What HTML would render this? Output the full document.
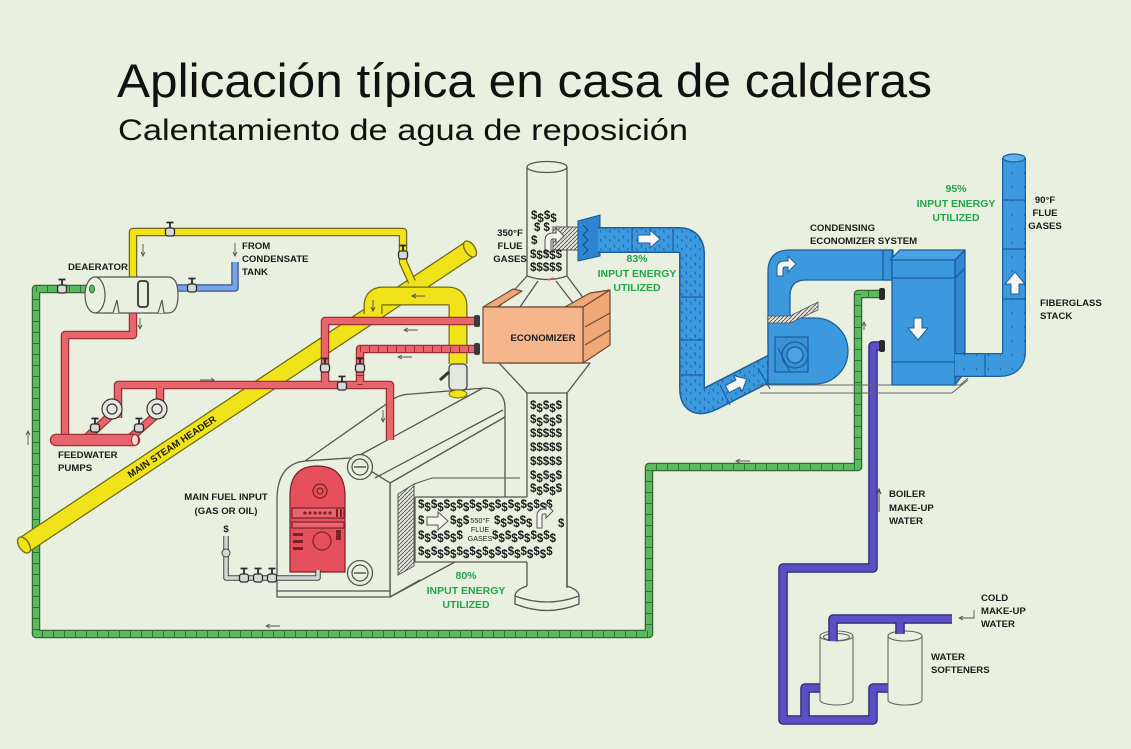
<!DOCTYPE html>
<html><head><meta charset="utf-8"><style>
html,body{margin:0;padding:0;background:#eaf0e0;overflow:hidden}
svg{display:block}
text{font-family:"Liberation Sans",Arial,sans-serif}
.l{font-size:9.6px;font-weight:bold;fill:#1b1b1b}
.g{font-size:10.5px;font-weight:bold;fill:#20a549;text-anchor:middle}
.c{text-anchor:middle}
.d{font-size:11.5px;font-weight:bold;fill:#1a1a1a}
</style></head><body>
<svg width="1131" height="749" viewBox="0 0 1131 749" xmlns="http://www.w3.org/2000/svg">
<defs>
<pattern id="dp" width="9" height="9" patternUnits="userSpaceOnUse">
<rect width="9" height="9" fill="#3c99de"/>
<path d="M2 1.5 l0.8 3 M6.5 5 l0.8 2.6" stroke="#1d5f9f" stroke-width="1"/>
</pattern>
<pattern id="dp2" width="12" height="14" patternUnits="userSpaceOnUse">
<rect width="12" height="14" fill="#3c99de"/>
<path d="M4 4 l0.6 2" stroke="#1d5f9f" stroke-width="1"/>
</pattern>
<pattern id="ht" width="4" height="4" patternUnits="userSpaceOnUse">
<rect width="4" height="4" fill="#e2e4dc"/>
<path d="M0 4 L4 0" stroke="#555" stroke-width="0.9"/>
</pattern>
<g id="v">
<rect x="-4.5" y="-4" width="9" height="8" rx="2.5" fill="#d8d8d8" stroke="#2a2a2a" stroke-width="1.3"/>
<path d="M0 -4 V-9 M-3.5 -9.5 H3.5" stroke="#2a2a2a" stroke-width="1.8"/>
</g>
</defs>
<rect width="1131" height="749" fill="#eaf0e0"/>

<!-- Titles -->
<text x="117" y="97" font-size="47" fill="#111" textLength="815" lengthAdjust="spacingAndGlyphs">Aplicación típica en casa de calderas</text>
<text x="118" y="140" font-size="30" fill="#111" textLength="570" lengthAdjust="spacingAndGlyphs">Calentamiento de agua de reposición</text>

<!-- Boiler -->
<g fill="#eaf0e0" stroke="#555" stroke-width="1.3" stroke-linejoin="round">
<path d="M305 461 L395 398 Q402 394 412 394 L485 388 Q505 389 505 408 V535 L390 597 V483 L350 458 Z"/>
<path d="M277 597 V500 Q277 464 305 461 L350 458 L390 483 V597 Z"/>
<path d="M360 455 L483 388 M375 478 L503 410 M390 483 L505 417" fill="none"/>
<path d="M277 591 H390 M390 597 L420 580" fill="none"/>
<circle cx="360" cy="467" r="12.5"/>
<circle cx="360" cy="467" r="8"/>
<circle cx="360" cy="573" r="12.5"/>
<circle cx="360" cy="573" r="8"/>
</g>
<path d="M354 467 h12 M354 573 h12" stroke="#555" stroke-width="1.5"/>

<!-- Stack -->
<g fill="#eaf0e0" stroke="#555" stroke-width="1.3" stroke-linejoin="round">
<path d="M527 167 V276 L499 307 H590 L567 276 V167"/>
<ellipse cx="547" cy="167" rx="20" ry="5.5"/>
<path d="M527 276 Q547 283 567 276 M538 281 L520 307 M556 281 L573 303" fill="none"/>
<path d="M499 363 H590 L567 393 H527 Z"/>
<path d="M527 393 V588 M567 393 V588" fill="none"/>
<path d="M527 586 Q515 590 515 596 V604 Q547 617 579 604 V596 Q579 590 567 586"/>
<path d="M515 596 Q547 608 579 596" fill="none"/>
</g>
<path d="M548 280 l6 -2" stroke="#e0506a" stroke-width="1.5"/>

<!-- Green pipe -->
<g fill="none" stroke-linejoin="round">
<path d="M92 289 H36 V634 H649 V467 H858 V294 H880" stroke="#2d6a31" stroke-width="8.5"/>
<path d="M92 289 H36 V634 H649 V467 H858 V294 H880" stroke="#5cb960" stroke-width="6"/>
<path d="M92 289 H36 V634 H649 V467 H858 V294 H880" stroke="#2f7434" stroke-width="6" stroke-dasharray="1 10"/>
</g>

<!-- Softeners -->
<g fill="#eaf0e0" stroke="#666" stroke-width="1.1">
<path d="M820 636 V700 A16.5 5 0 0 0 853 700 V636"/>
<ellipse cx="836.5" cy="636" rx="16.5" ry="5"/>
<ellipse cx="836.5" cy="637" rx="13" ry="3.5"/>
<path d="M888 636 V700 A17 5 0 0 0 922 700 V636"/>
<ellipse cx="905" cy="636" rx="17" ry="5"/>
</g>

<!-- Purple pipes -->
<g fill="none" stroke-linejoin="round">
<g stroke="#2d2570" stroke-width="9.5">
<path d="M882 346 H873 V568 H783 V720 H873 V688 H888"/>
<path d="M805 720 V688 H820"/>
<path d="M833 641 V619 H952"/>
<path d="M900 619 V634"/>
</g>
<g stroke="#5b4fc4" stroke-width="7">
<path d="M882 346 H873 V568 H783 V720 H873 V688 H888"/>
<path d="M805 720 V688 H820"/>
<path d="M833 641 V619 H952"/>
<path d="M900 619 V634"/>
</g>
</g>
<path d="M974 610 V618 H960 M963 616 L959 618 L963 620" stroke="#555" fill="none" stroke-width="0.9"/>
<path d="M879 512 V490 M877 494 L879 489 L881 494" stroke="#444" fill="none" stroke-width="1"/>

<!-- Main steam header -->
<line x1="24" y1="545" x2="470" y2="249" stroke="#6f6a10" stroke-width="18"/>
<line x1="24" y1="545" x2="470" y2="249" stroke="#f1e31a" stroke-width="15.5"/>
<ellipse cx="24" cy="545" rx="5" ry="9" transform="rotate(-33.6 24 545)" fill="#f1e31a" stroke="#6f6a10" stroke-width="1.3"/>
<ellipse cx="470" cy="249" rx="5" ry="9" transform="rotate(-33.6 470 249)" fill="#f1e31a" stroke="#6f6a10" stroke-width="1.3"/>
<text class="l c" x="172" y="450" transform="rotate(-33.6 172 447)" font-size="9.8px">MAIN STEAM HEADER</text>

<!-- Yellow deaerator vent line -->
<g fill="none" stroke-linejoin="round">
<path d="M133 279 V232 H403 V262 L412 282" stroke="#6f6a10" stroke-width="8.5"/>
<path d="M133 279 V232 H403 V262 L412 282" stroke="#f1e31a" stroke-width="6"/>
</g>

<!-- Yellow U -->
<g fill="none" stroke-linejoin="round">
<path d="M373 314 V306 Q373 296 383 296 H448 Q458 296 458 306 V364" stroke="#6f6a10" stroke-width="19"/>
<path d="M373 314 V306 Q373 296 383 296 H448 Q458 296 458 306 V364" stroke="#f1e31a" stroke-width="16.5"/>
</g>
<path d="M425 296 h-12 M416 294 l-4 2 l4 2" stroke="#555" fill="none"/>
<path d="M373 300 v10 M371 307 l2 4 l2 -4" stroke="#555" fill="none"/>
<!-- steam nozzle fitting -->
<rect x="449" y="364" width="18" height="26" rx="4" fill="#e4e6e0" stroke="#444" stroke-width="1.3"/>
<ellipse cx="458" cy="394" rx="9" ry="4" fill="#f1e31a" stroke="#6f6a10"/>
<path d="M449 372 L440 380" stroke="#333" stroke-width="3"/>

<!-- Blue condensate -->
<g fill="none" stroke-linejoin="round">
<path d="M176 288 H235 V262" stroke="#35558f" stroke-width="7.5"/>
<path d="M176 288 H235 V262" stroke="#7aa3e8" stroke-width="5"/>
</g>
<path d="M235 243 V256 M233 252 l2 4 l2 -4" stroke="#555" fill="none" stroke-width="0.9"/>

<!-- Red pipes -->
<g fill="none" stroke-linejoin="round">
<g stroke="#9a2f36" stroke-width="8.5">
<path d="M133 313 V335 H65 V438"/>
<path d="M118 418 V385 H390 V440"/>
<path d="M160 418 V385"/>
<path d="M325 385 V321 H478"/>
<path d="M360 385 V349 H478"/>
<path d="M84 440 L110 416 M128 440 L155 416"/>
</g>
<g stroke="#e9656c" stroke-width="6">
<path d="M133 313 V335 H65 V438"/>
<path d="M118 418 V385 H390 V440"/>
<path d="M160 418 V385"/>
<path d="M325 385 V321 H478"/>
<path d="M360 385 V349 H478"/>
<path d="M84 440 L110 416 M128 440 L155 416"/>
</g>
<path d="M360 385 V349 H478" stroke="#9a2f36" stroke-width="6" stroke-dasharray="1 8"/>
</g>
<line x1="56" y1="440" x2="134" y2="440" stroke="#9a2f36" stroke-width="12.5" stroke-linecap="round"/>
<line x1="56" y1="440" x2="134" y2="440" stroke="#e9656c" stroke-width="10" stroke-linecap="round"/>
<ellipse cx="135" cy="440" rx="3.5" ry="5.5" fill="#f3d6d6" stroke="#9a2f36"/>
<!-- pumps -->
<g fill="#e6e6e2" stroke="#333" stroke-width="1.2">
<circle cx="112" cy="409" r="10"/><circle cx="112" cy="409" r="5"/>
<circle cx="157" cy="409" r="10"/><circle cx="157" cy="409" r="5"/>
</g>
<!-- flanges at economizer -->
<g fill="#3a3a3a"><rect x="474" y="315" width="6" height="12" rx="2"/><rect x="474" y="343" width="6" height="12" rx="2"/></g>
<!-- flow arrows -->
<g stroke="#555" fill="none" stroke-width="0.9">
<path d="M200 380 h14 M211 378 l3 2 l-3 2"/>
<path d="M140 318 v10 M138 325 l2 4 l2 -4"/>
<path d="M143 244 v12 M141 252 l2 4 l2 -4"/>
<path d="M418 330 h-14 M408 328 l-4 2 l4 2"/>
<path d="M412 357 h-14 M402 355 l-4 2 l4 2"/>
<path d="M383 410 v12 M381 418 l2 4 l2 -4"/>
<path d="M28 445 v-14 M26 435 l2 -4 l2 4"/>
<path d="M280 626 h-14 M270 624 l-4 2 l4 2"/>
<path d="M750 461 h-14 M740 459 l-4 2 l4 2"/>
<path d="M864 330 v-8 M862 326 l2 -4 l2 4"/>
</g>

<!-- Deaerator -->
<g fill="#eaf0e0" stroke="#555" stroke-width="1.2">
<path d="M95 277 H168 Q178 277 178 295 Q178 313 168 313 H95"/>
<ellipse cx="95" cy="295" rx="10" ry="18"/>
<path d="M113 313 L117 300 L119 313 M158 313 L162 300 L164 313"/>
</g>
<rect x="138" y="281" width="10" height="26" rx="3" fill="none" stroke="#333" stroke-width="1.8"/>
<ellipse cx="92" cy="289" rx="2.5" ry="4" fill="#5cb960" stroke="#2d6a31"/>

<!-- Valves -->
<use href="#v" x="62" y="289"/>
<use href="#v" x="170" y="232"/>
<use href="#v" x="192" y="288"/>
<use href="#v" x="403" y="255"/>
<use href="#v" x="325" y="368"/>
<use href="#v" x="360" y="368"/>
<use href="#v" x="342" y="386"/>
<use href="#v" x="95" y="428"/>
<use href="#v" x="139" y="428"/>

<!-- Economizer -->
<g stroke="#6b4a33" stroke-width="1.2" stroke-linejoin="round">
<polygon points="483,307 513,289 522,291 497,307" fill="#f0a878"/>
<polygon points="565,307 590,293 610,290 583,307" fill="#f0a878"/>
<polygon points="583,307 610,290 610,345 583,363" fill="#f0a878"/>
<rect x="483" y="307" width="100" height="56" fill="#f5b68c"/>
<path d="M585 327 L610 313 M585 345 L610 330" fill="none"/>
</g>
<text class="l c" x="543" y="341" font-size="10px">ECONOMIZER</text>

<!-- Stack connector & blue flange -->
<rect x="553" y="227" width="26" height="23" fill="url(#ht)" stroke="#555"/>
<path d="M545 252 V241 Q545 233 553 233 H556 V228 L564 236 L556 244 V239 H553 Q551 239 551 241 V252 Z" fill="#f4f4f0" stroke="#555"/>
<polygon points="578,221 600,215 600,256 578,261" fill="#2f84cf" stroke="#1a5590"/>
<path d="M583 225 l5 5 l-5 5 l5 5 l-5 5 l5 5 l-5 5" stroke="#1a4a7a" fill="none"/>

<!-- Blue duct -->
<g fill="none" stroke-linejoin="round">
<path d="M598 240 H679 Q692 240 692 254 V388 Q692 408 712 398 L792 357" stroke="#1d5e9c" stroke-width="26"/>
<path d="M598 240 H679 Q692 240 692 254 V388 Q692 408 712 398 L792 357" stroke="url(#dp)" stroke-width="23"/>
</g>
<g stroke="#1d5e9c" stroke-width="1.2">
<path d="M632 229 V251 M673 229 V251 M681 297 H703 M681 340 H703 M681 375 H703 M720 385 L730 405 M758 368 L770 389"/>
</g>
<polygon points="638,235 650,235 650,230 660,239 650,248 650,243 638,243" fill="#f7f7f4" stroke="#1d5e9c"/>
<polygon points="-11,-4 1,-4 1,-9 11,0 1,9 1,4 -11,4" transform="translate(737 384) rotate(-28)" fill="#f7f7f4" stroke="#1d5e9c"/>

<!-- Base frame -->
<path d="M757 385 H960 L968 378 M760 393 H952 L968 380" stroke="#666" fill="none" stroke-width="1.1"/>

<!-- Fan and top duct -->
<g stroke="#1d5e9c" stroke-width="1.3" stroke-linejoin="round">
<path d="M768 345 V272 Q768 250 790 250 H893 V280 H806 Q790 280 790 296 V320 Z" fill="#3c99de"/>
<path d="M768 318 H815 A33 33 0 0 1 815 384 H768 Z" fill="#3c99de"/>
<rect x="775" y="337" width="33" height="35" fill="#3a92d6"/>
<circle cx="795" cy="355" r="13" fill="#3a92d6"/>
<circle cx="795" cy="355" r="8" fill="#4aa2e2"/>
</g>
<polygon points="768,316 790,316 818,302 818,310 790,323 768,323" fill="url(#ht)" stroke="#555" stroke-width="0.8"/>
<path d="M777 276 V268 Q777 261 785 261 H788 V256 L796 264 L788 272 V267 H785 Q783 267 783 269 V276 Z" fill="#f7f7f4" stroke="#1d5e9c"/>
<!-- diagonal duct cap near fan -->
<path d="M778 348 L790 372" stroke="#1d5e9c" stroke-width="1.2"/>

<!-- Condenser box -->
<g stroke="#1d5e9c" stroke-width="1.3" stroke-linejoin="round">
<rect x="883" y="250" width="9" height="30" fill="#3893d8"/>
<polygon points="890,260 900,250 965,250 955,260" fill="#4aa3e4"/>
<polygon points="955,260 965,250 965,372 955,385" fill="#3289d0"/>
<rect x="892" y="260" width="63" height="125" fill="#3c99de"/>
<path d="M892 278 H955 L965 268 M892 362 H955 L965 352" fill="none"/>
</g>
<polygon points="914,318 922,318 922,328 928,328 918,340 908,328 914,328" fill="#f7f7f4" stroke="#1d5e9c"/>
<!-- flanges for green/purple -->
<g fill="#2a2a2a"><rect x="879" y="288" width="6" height="12" rx="2"/><rect x="879" y="340" width="6" height="12" rx="2"/></g>

<!-- Exit duct & fiberglass stack -->
<g fill="none" stroke-linejoin="round">
<path d="M955 365 H1000 Q1014 365 1014 351 V158" stroke="#1d5e9c" stroke-width="24"/>
<path d="M955 365 H1000 Q1014 365 1014 351 V158" stroke="url(#dp2)" stroke-width="21.5"/>
</g>
<ellipse cx="1014" cy="158" rx="11" ry="4" fill="#5fb0ea" stroke="#1d5e9c" stroke-width="1.2"/>
<path d="M1003 200 H1025 M1003 249 H1025 M1003 299 H1025 M985 354 V376" stroke="#1d5e9c" stroke-width="1.2"/>
<polygon points="1011,294 1019,294 1019,284 1025,284 1015,272 1005,284 1011,284" fill="#f7f7f4" stroke="#1d5e9c"/>

<!-- Flue box from boiler -->
<polygon points="398,494 414,484 414,566 398,575" fill="url(#ht)" stroke="#555"/>
<path d="M414 484 L432 478 H520" stroke="#555" fill="none"/>
<rect x="415" y="497" width="151" height="65" fill="#eaf0e0"/>
<path d="M415 497 H527 M415 562 H527 M415 497 V562 M567 393 V588" stroke="#555" fill="none" stroke-width="1.3"/>

<!-- Dollar signs -->
<g class="d">
<text x="531" y="219" dy="0 3 -3 3">$$$$</text>
<text x="534" y="231" dy="0" letter-spacing="3">$$</text>
<text x="531" y="244">$</text>
<text x="530" y="258" dy="0 1 -1 1 -1">$$$$$</text>
<text x="530" y="271">$$$$$</text>
<text x="530" y="409" dy="0 3 -3 3 -3">$$$$$</text>
<text x="530" y="423" dy="0 3 -3 3 -3">$$$$$</text>
<text x="530" y="437">$$$$$</text>
<text x="530" y="451">$$$$$</text>
<text x="530" y="465">$$$$$</text>
<text x="530" y="479" dy="0 3 -3 3 -3">$$$$$</text>
<text x="530" y="492" dy="0 3 -3 3 -3">$$$$$</text>
<text x="418" y="508" dy="0 3 -3 3 -3 3 -3 3 -3 3 -3 3 -3 3 -3 3 -3 3 -3 3 -3">$$$$$$$$$$$$$$$$$$$$$</text>
<text x="418" y="524">$</text>
<text x="450" y="524" dy="0 3 -3">$$$</text>
<text x="494" y="524" dy="0 3 -3 3 -3 3">$$$$$$</text>
<text x="558" y="527">$</text>
<text x="418" y="539" dy="0 3 -3 3 -3 3 -3">$$$$$$$</text>
<text x="492" y="539" dy="0 3 -3 3 -3 3 -3 3 -3 3">$$$$$$$$$$</text>
<text x="418" y="555" dy="0 3 -3 3 -3 3 -3 3 -3 3 -3 3 -3 3 -3 3 -3 3 -3 3 -3">$$$$$$$$$$$$$$$$$$$$$</text>
</g>
<polygon points="427,517 438,517 438,512 448,521 438,530 438,525 427,525" fill="#f4f4f0" stroke="#555"/>
<path d="M537 528 V516 Q537 509 544 509 H546 V504 L553 511 L546 518 V514 H544 Q542 514 542 516 V528 Z" fill="#f4f4f0" stroke="#555"/>
<g font-size="7.2px" fill="#222" class="c">
<text x="480" y="523">550°F</text>
<text x="480" y="532">FLUE</text>
<text x="480" y="541">GASES</text>
</g>

<!-- Burner -->
<g stroke="#7a2228" stroke-width="1.2">
<path d="M290 572 V496 Q290 466 317 466 Q345 466 345 496 V572 Z" fill="#e5505c"/>
<circle cx="320" cy="491" r="7" fill="#e5505c"/>
<circle cx="320" cy="491" r="3" fill="#e5505c"/>
<rect x="292" y="508" width="52" height="10" fill="#e96470"/>
<rect x="292" y="522" width="52" height="6" fill="#e96470"/>
<circle cx="322" cy="541" r="9" fill="#e5505c"/>
</g>
<g fill="#7a2228">
<circle cx="305" cy="513" r="1.6"/><circle cx="310" cy="513" r="1.6"/><circle cx="315" cy="513" r="1.6"/><circle cx="320" cy="513" r="1.6"/><circle cx="325" cy="513" r="1.6"/><circle cx="330" cy="513" r="1.6"/>
<rect x="336" y="509" width="2" height="8"/><rect x="340" y="509" width="2" height="8"/>
<rect x="293" y="533" width="10" height="3"/><rect x="293" y="540" width="10" height="3"/><rect x="293" y="547" width="10" height="3"/>
<rect x="336" y="530" width="5" height="10"/>
</g>

<!-- Fuel pipe -->
<g fill="none" stroke-linejoin="round">
<path d="M226 536 V578 H318 V570" stroke="#444" stroke-width="5.5"/>
<path d="M226 536 V578 H318 V570" stroke="#d6d6d2" stroke-width="3.5"/>
</g>
<circle cx="226" cy="553" r="4" fill="#d6d6d2" stroke="#444"/>
<use href="#v" x="244" y="578"/>
<use href="#v" x="258" y="578"/>
<use href="#v" x="272" y="578"/>

<!-- Labels -->
<g class="l">
<text x="68" y="270">DEAERATOR</text>
<text x="242" y="249">FROM</text>
<text x="242" y="262">CONDENSATE</text>
<text x="242" y="275">TANK</text>
<text x="58" y="458">FEEDWATER</text>
<text x="58" y="471">PUMPS</text>
<text x="226" y="500" class="c">MAIN FUEL INPUT</text>
<text x="226" y="514" class="c">(GAS OR OIL)</text>
<text x="226" y="532" class="c">$</text>
<text x="510" y="236" class="c">350°F</text>
<text x="510" y="249" class="c">FLUE</text>
<text x="510" y="262" class="c">GASES</text>
<text x="810" y="231">CONDENSING</text>
<text x="810" y="244">ECONOMIZER SYSTEM</text>
<text x="1045" y="203" class="c">90°F</text>
<text x="1045" y="216" class="c">FLUE</text>
<text x="1045" y="229" class="c">GASES</text>
<text x="1040" y="306">FIBERGLASS</text>
<text x="1040" y="319">STACK</text>
<text x="889" y="497">BOILER</text>
<text x="889" y="511">MAKE-UP</text>
<text x="889" y="524">WATER</text>
<text x="981" y="601">COLD</text>
<text x="981" y="614">MAKE-UP</text>
<text x="981" y="627">WATER</text>
<text x="931" y="660">WATER</text>
<text x="931" y="673">SOFTENERS</text>
</g>
<g class="g">
<text x="637" y="262">83%</text>
<text x="637" y="277">INPUT ENERGY</text>
<text x="637" y="291">UTILIZED</text>
<text x="956" y="192">95%</text>
<text x="956" y="207">INPUT ENERGY</text>
<text x="956" y="221">UTILIZED</text>
<text x="466" y="579">80%</text>
<text x="466" y="594">INPUT ENERGY</text>
<text x="466" y="608">UTILIZED</text>
</g>
</svg>
</body></html>
